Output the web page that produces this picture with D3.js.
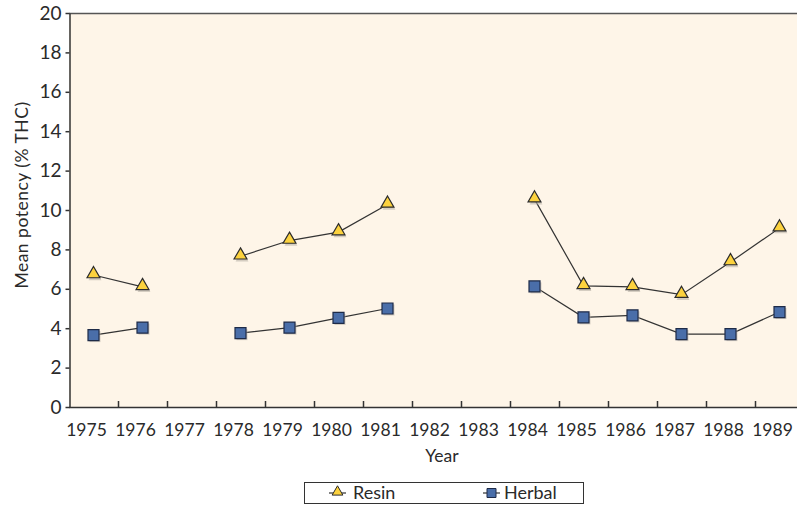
<!DOCTYPE html>
<html>
<head>
<meta charset="utf-8">
<script src="https://cdn.jsdelivr.net/npm/d3@7/dist/d3.min.js"></script>
<style>
  html, body { margin: 0; padding: 0; background: #ffffff; }
  svg { display: block; }
  text { font-family: "Lato", "Liberation Sans", sans-serif; font-weight: 400; fill: #2a2a2a; }
</style>
</head>
<body>
<svg id="chart" width="797" height="509"></svg>
<script>
const years = ["1975","1976","1977","1978","1979","1980","1981","1982","1983","1984","1985","1986","1987","1988","1989"];
const resin  = [6.7, 6.1, null, 7.65, 8.45, 8.88, 10.28, null, null, 10.55, 6.15, 6.1, 5.7, 7.36, 9.08];
const herbal = [3.65, 4.03, null, 3.75, 4.03, 4.52, 5.0, null, null, 6.12, 4.55, 4.65, 3.7, 3.7, 4.82];
const yTicks = [0, 2, 4, 6, 8, 10, 12, 14, 16, 18, 20];
const seriesNames = ["Resin", "Herbal"];

const svg = d3.select("#chart");
const mLeft = 69, mTop = 13, mBottom = 407, mRight = 804;

const x = d3.scaleBand().domain(years).range([mLeft, mRight]).padding(0);
const y = d3.scaleLinear().domain([0, 20]).range([mBottom, mTop]);

// plot background
svg.append("rect")
  .attr("x", mLeft).attr("y", mTop)
  .attr("width", mRight - mLeft).attr("height", mBottom - mTop)
  .attr("fill", "#fef5e8");

// top border
svg.append("line")
  .attr("x1", mLeft).attr("x2", 797).attr("y1", mTop + 0.5).attr("y2", mTop + 0.5)
  .attr("stroke", "#555").attr("stroke-width", 1.5);

// y axis
const yAxis = svg.append("g")
  .attr("transform", `translate(${mLeft + 0.5},0)`)
  .call(d3.axisLeft(y).tickValues(yTicks).tickSize(4).tickPadding(4).tickSizeOuter(0));
yAxis.select(".domain").attr("stroke", "#333").attr("stroke-width", 1.5);
yAxis.selectAll(".tick line").attr("stroke", "#333").attr("stroke-width", 1.5);
yAxis.selectAll(".tick text").attr("font-size", 19).attr("font-family", "Lato, sans-serif")
  .attr("font-weight", 400).attr("fill", "#2a2a2a");

// x axis line
svg.append("line")
  .attr("x1", mLeft).attr("x2", 797).attr("y1", mBottom + 0.5).attr("y2", mBottom + 0.5)
  .attr("stroke", "#333").attr("stroke-width", 1.5);

// x ticks at category boundaries, pointing inward
svg.append("g").selectAll("line")
  .data(years.slice(1))
  .join("line")
  .attr("x1", d => x(d) + 0.5).attr("x2", d => x(d) + 0.5)
  .attr("y1", mBottom).attr("y2", mBottom - 6)
  .attr("stroke", "#333").attr("stroke-width", 1.5);

// x labels
svg.append("g").selectAll("text")
  .data(years)
  .join("text")
  .attr("x", d => x(d) + x.bandwidth() / 2 - 7)
  .attr("y", 436)
  .attr("text-anchor", "middle")
  .attr("font-size", 17.5)
  .text(d => d);

// axis titles
svg.append("text")
  .attr("x", 442).attr("y", 462)
  .attr("text-anchor", "middle")
  .attr("font-size", 17.5)
  .text("Year");

svg.append("text")
  .attr("transform", "translate(28,195) rotate(-90)")
  .attr("text-anchor", "middle")
  .attr("font-size", 17.5)
  .attr("letter-spacing", 0.5)
  .text("Mean potency (% THC)");

const cx = i => x(years[i]) + x.bandwidth() / 2;

function drawSeries(vals, shape, fill, stroke) {
  const line = d3.line()
    .defined(d => d != null)
    .x((d, i) => cx(i))
    .y(d => y(d));
  svg.append("path")
    .datum(vals)
    .attr("d", line)
    .attr("fill", "none")
    .attr("stroke", "#333")
    .attr("stroke-width", 1.2);
  const pts = vals.map((v, i) => ({ v, i })).filter(d => d.v != null);
  const sym = d3.symbol().type(shape === "tri" ? d3.symbolTriangle : d3.symbolSquare)
    .size(shape === "tri" ? 72 : 121);
  svg.append("g").selectAll("path")
    .data(pts).join("path")
    .attr("d", sym)
    .attr("transform", d => `translate(${cx(d.i) + 1.5},${y(d.v) + 1.5})`)
    .attr("fill", "#b9b2a6").attr("opacity", 0.6);
  svg.append("g").selectAll("path")
    .data(pts).join("path")
    .attr("d", sym)
    .attr("transform", d => `translate(${cx(d.i)},${y(d.v) - (shape === "tri" ? 1 : 0)})`)
    .attr("fill", fill).attr("stroke", stroke).attr("stroke-width", 1.2);
}
drawSeries(resin, "tri", "#fcd23e", "#2b2b2b");
drawSeries(herbal, "sq", "#4a6ea9", "#1e2b48");

// legend
const lg = svg.append("g");
lg.append("rect")
  .attr("x", 304.5).attr("y", 482.5).attr("width", 279).attr("height", 21)
  .attr("fill", "#fff").attr("stroke", "#333").attr("stroke-width", 1);
const legendItems = [
  { name: seriesNames[0], lx: 329, tx: 353, shape: "tri", fill: "#fcd23e", stroke: "#2b2b2b" },
  { name: seriesNames[1], lx: 483, tx: 504, shape: "sq", fill: "#4a6ea9", stroke: "#1e2b48" }
];
legendItems.forEach(it => {
  lg.append("line")
    .attr("x1", it.lx).attr("x2", it.lx + 17).attr("y1", 493).attr("y2", 493)
    .attr("stroke", "#333").attr("stroke-width", 1.2);
  lg.append("path")
    .attr("d", d3.symbol().type(it.shape === "tri" ? d3.symbolTriangle : d3.symbolSquare).size(it.shape === "tri" ? 50 : 81))
    .attr("transform", `translate(${it.lx + 8.5},${it.shape === "tri" ? 492 : 493})`)
    .attr("fill", it.fill).attr("stroke", it.stroke).attr("stroke-width", 1);
  lg.append("text")
    .attr("x", it.tx).attr("y", 499)
    .attr("font-size", 18)
    .text(it.name);
});
</script>
</body>
</html>
